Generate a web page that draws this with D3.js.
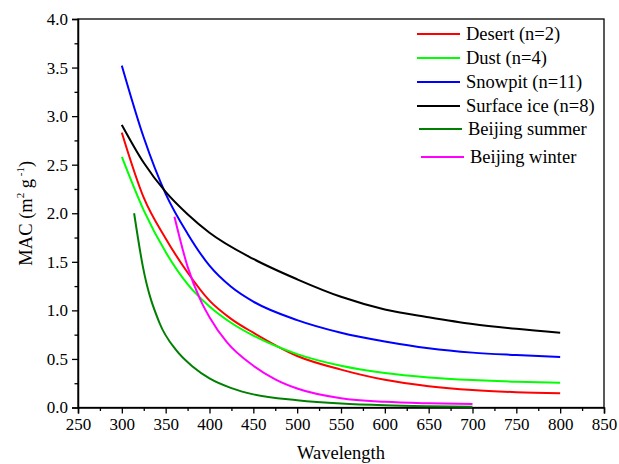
<!DOCTYPE html>
<html>
<head>
<meta charset="utf-8">
<script src="https://cdn.jsdelivr.net/npm/d3@7"></script>
<style>
  body { margin: 0; background: #fff; }
</style>
</head>
<body>
<div id="chart"></div>
<script>
// values: [wavelength, MAC]
const desert = [[300, 2.83], [325, 2.16], [350, 1.74], [375, 1.39], [400, 1.10], [425, 0.91], [450, 0.77],
  [500, 0.53], [550, 0.39], [600, 0.285], [650, 0.22], [700, 0.18], [750, 0.158], [800, 0.146]];
const dust = [[300, 2.58], [325, 2.03], [350, 1.60], [375, 1.27], [400, 1.04], [425, 0.87], [450, 0.74],
  [500, 0.55], [550, 0.43], [600, 0.355], [650, 0.31], [700, 0.283], [750, 0.265], [800, 0.255]];
const snowpit = [[300, 3.52], [325, 2.78], [350, 2.20], [375, 1.79], [400, 1.46], [425, 1.24], [450, 1.09],
  [500, 0.90], [550, 0.77], [600, 0.68], [650, 0.61], [700, 0.565], [750, 0.54], [800, 0.52]];
const surfaceIce = [[300, 2.91], [325, 2.52], [350, 2.22], [375, 1.99], [400, 1.80], [450, 1.53],
  [500, 1.32], [550, 1.14], [600, 1.01], [650, 0.93], [700, 0.86], [750, 0.81], [800, 0.77]];
const beijingSummer = [[314, 2.00], [324, 1.45], [343, 0.87], [362, 0.59], [381, 0.42], [400, 0.30], [425, 0.20],
  [450, 0.135], [500, 0.075], [550, 0.04], [600, 0.022], [650, 0.013], [700, 0.008]];
const beijingWinter = [[360, 1.965], [375, 1.45], [390, 1.10], [400, 0.93], [420, 0.67], [450, 0.43], [475, 0.29],
  [500, 0.195], [550, 0.095], [600, 0.058], [650, 0.043], [700, 0.036]];

const seriesNames = ['Desert (n=2)', 'Dust (n=4)', 'Snowpit (n=11)', 'Surface ice (n=8)', 'Beijing summer', 'Beijing winter'];
const seriesColors = ['#ff0000', '#00ff00', '#0000ff', '#000000', '#008000', '#ff00ff'];
const seriesData = [desert, dust, snowpit, surfaceIce, beijingSummer, beijingWinter];

const xTicks = d3.range(250, 851, 50);
const yTicks = d3.range(0, 4.01, 0.5);

const width = 619, height = 464;
const margin = { top: 19, right: 15, bottom: 57, left: 78 };
const serif = '"Liberation Serif", "Times New Roman", "DejaVu Serif", serif';

const svg = d3.select('#chart').append('svg')
  .attr('width', width).attr('height', height)
  .attr('font-family', serif)
  .style('display', 'block');

const x = d3.scaleLinear().domain([250, 850]).range([margin.left, width - margin.right]);
const y = d3.scaleLinear().domain([0, 4]).range([height - margin.bottom + 0.5, margin.top]);

// frame
svg.append('rect')
  .attr('x', x(250)).attr('y', y(4))
  .attr('width', x(850) - x(250)).attr('height', y(0) - y(4))
  .attr('fill', 'none').attr('stroke', '#000').attr('stroke-width', 1.3);

// axes
svg.append('g').attr('transform', `translate(0,${y(0)})`)
  .call(d3.axisBottom(x).tickValues(xTicks).tickFormat(d3.format('d')).tickSize(6).tickPadding(4));
svg.append('g').attr('transform', `translate(0,${y(0)})`)
  .call(d3.axisBottom(x).tickValues(d3.range(275, 850, 50)).tickFormat('').tickSize(3.5))
  .call(g => g.select('.domain').remove());

svg.append('g').attr('transform', `translate(${x(250)},0)`)
  .call(d3.axisLeft(y).tickValues(yTicks).tickFormat(d3.format('.1f')).tickSize(6).tickPadding(4));
svg.append('g').attr('transform', `translate(${x(250)},0)`)
  .call(d3.axisLeft(y).tickValues(d3.range(0.25, 4, 0.5)).tickFormat('').tickSize(3.5))
  .call(g => g.select('.domain').remove());

svg.selectAll('g').attr('font-family', serif);
svg.selectAll('.domain').attr('stroke-width', 1.5);
svg.selectAll('.tick line').attr('stroke-width', 1.3);
svg.selectAll('.tick text').attr('font-size', 17).attr('fill', '#000');

// axis titles
svg.append('text')
  .attr('x', (x(250) + x(850)) / 2).attr('y', 459)
  .attr('text-anchor', 'middle').attr('font-size', 18.5)
  .text('Wavelength');

const yt = svg.append('text')
  .attr('transform', `translate(32,${(y(0) + y(4)) / 2}) rotate(-90)`)
  .attr('text-anchor', 'middle').attr('font-size', 18.5);
yt.append('tspan').text('MAC (m');
yt.append('tspan').attr('font-size', 11).attr('dy', -8).text('2');
yt.append('tspan').attr('dy', 8).text(' g');
yt.append('tspan').attr('font-size', 11).attr('dy', -8).text(' -1');
yt.append('tspan').attr('dy', 8).text(')');

// curves
const line = d3.line()
  .x(d => x(d[0])).y(d => y(d[1]))
  .curve(d3.curveMonotoneX);

svg.append('g').selectAll('path')
  .data(seriesData)
  .join('path')
  .attr('d', line)
  .attr('fill', 'none')
  .attr('stroke', (d, i) => seriesColors[i])
  .attr('stroke-width', 2);

// legend
const legendRows = [34, 58, 82, 106, 129, 157];
const legendX0 = [417, 417, 417, 417, 419, 421];
const legend = svg.append('g').selectAll('g')
  .data(seriesNames)
  .join('g')
  .attr('transform', (d, i) => `translate(${legendX0[i]},${legendRows[i]})`);

legend.append('line')
  .attr('x1', 0).attr('x2', 43)
  .attr('stroke', (d, i) => seriesColors[i]).attr('stroke-width', 2);
legend.append('text')
  .attr('x', 49).attr('y', 6)
  .attr('font-size', 18.5)
  .text(d => d);
</script>
</body>
</html>
